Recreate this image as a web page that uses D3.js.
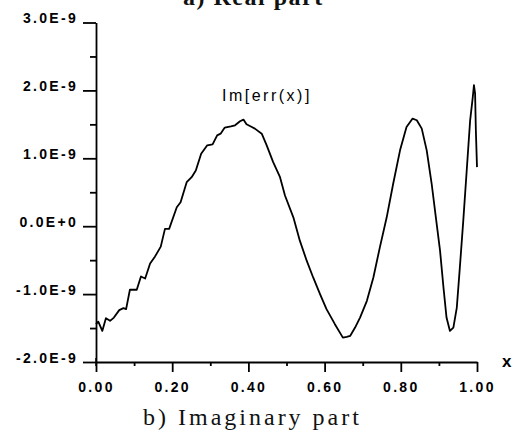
<!DOCTYPE html>
<html>
<head>
<meta charset="utf-8">
<script src="https://cdn.jsdelivr.net/npm/d3@7"></script>
<style>
  body { margin: 0; background: #fff; }
  svg { display: block; }
  .tick-label { font-family: "Liberation Sans", Arial, sans-serif; font-weight: bold; font-size: 14px; letter-spacing: 2.3px; fill: #000; }
  .caption { font-family: "Liberation Serif", "DejaVu Serif", serif; font-size: 24px; letter-spacing: 3px; fill: #111; }
</style>
</head>
<body>
<svg id="chart"></svg>
<script>
// x positions along the domain (0..1)
const xValues = [0, 0.006, 0.0165, 0.026, 0.037, 0.047, 0.061, 0.072, 0.079, 0.089,
  0.107, 0.118, 0.129, 0.142, 0.155, 0.170, 0.181, 0.192, 0.212, 0.222,
  0.238, 0.251, 0.262, 0.276, 0.292, 0.306, 0.318, 0.327, 0.338, 0.354,
  0.365, 0.378, 0.387, 0.395, 0.409, 0.417, 0.435, 0.448, 0.465, 0.483,
  0.496, 0.518, 0.535, 0.553, 0.570, 0.588, 0.605, 0.627, 0.648, 0.658,
  0.667, 0.680, 0.693, 0.711, 0.728, 0.745, 0.763, 0.780, 0.798, 0.815,
  0.831, 0.842, 0.855, 0.868, 0.881, 0.892, 0.903, 0.912, 0.920, 0.929,
  0.938, 0.947, 0.955, 0.964, 0.973, 0.982, 0.989, 0.992, 0.995, 0.997, 1.0];

// Im[err(x)] in units of 1E-9
const imErr = [-1.443, -1.405, -1.542, -1.354, -1.394, -1.346, -1.236, -1.207, -1.222, -0.936,
  -0.936, -0.740, -0.770, -0.548, -0.445, -0.301, -0.040, -0.040, 0.279, 0.353,
  0.648, 0.722, 0.821, 1.068, 1.191, 1.205, 1.338, 1.363, 1.452, 1.471,
  1.486, 1.545, 1.570, 1.501, 1.461, 1.437, 1.363, 1.191, 0.944, 0.722,
  0.452, 0.131, -0.213, -0.508, -0.755, -1.000, -1.222, -1.443, -1.641, -1.631,
  -1.616, -1.493, -1.346, -1.099, -0.755, -0.312, 0.131, 0.625, 1.117, 1.461,
  1.585, 1.560, 1.437, 1.117, 0.625, 0.131, -0.360, -0.903, -1.346, -1.542,
  -1.493, -1.198, -0.607, 0.083, 0.821, 1.560, 1.904, 2.077, 1.954, 1.412, 0.870];

const yMajorTicks = [-2, -1, 0, 1, 2, 3];
const yMinorTicks = [-1.5, -0.5, 0.5, 1.5, 2.5];
const yTickLabels = ["-2.0E-9", "-1.0E-9", "0.0E+0", "1.0E-9", "2.0E-9", "3.0E-9"];
const xMajorTicks = [0, 0.2, 0.4, 0.6, 0.8, 1.0];
const xMinorTicks = [0.1, 0.3, 0.5, 0.7, 0.9];
const xTickLabels = ["0.00", "0.20", "0.40", "0.60", "0.80", "1.00"];

const seriesLabel = "Im[err(x)]";
const topCaption = "a) Real part";
const bottomCaption = "b) Imaginary part";
const xAxisTitle = "x";

const width = 525, height = 438;
const margin = { left: 96, right: 48, top: 22.5, bottom: 76 };

const svg = d3.select('#chart')
    .attr('width', width)
    .attr('height', height);

const x = d3.scaleLinear().domain([0, 1]).range([margin.left, width - margin.right]);
const y = d3.scaleLinear().domain([-2, 3]).range([height - margin.bottom, margin.top]);

// y axis: major + minor ticks
const yAxis = svg.append('g')
    .attr('transform', `translate(${margin.left},0)`)
    .call(d3.axisLeft(y).tickValues(yMajorTicks).tickSize(13).tickSizeOuter(0).tickPadding(5)
        .tickFormat((d, i) => yTickLabels[i]));
yAxis.selectAll('text').attr('class', 'tick-label').attr('dy', 0);
svg.append('g')
    .attr('transform', `translate(${margin.left},0)`)
    .call(d3.axisLeft(y).tickValues(yMinorTicks).tickSize(6).tickFormat(''))
    .call(g => g.select('.domain').remove());

// x axis: major + minor ticks
const xAxis = svg.append('g')
    .attr('transform', `translate(0,${y(-2)})`)
    .call(d3.axisBottom(x).tickValues(xMajorTicks).tickSize(10).tickSizeOuter(0).tickPadding(10)
        .tickFormat((d, i) => xTickLabels[i]));
xAxis.selectAll('text').attr('class', 'tick-label').attr('dx', '0');
svg.append('g')
    .attr('transform', `translate(0,${y(-2)})`)
    .call(d3.axisBottom(x).tickValues(xMinorTicks).tickSize(4).tickFormat(''))
    .call(g => g.select('.domain').remove());

// little overshoot of the y axis below the x axis
svg.append('line')
    .attr('x1', x(0)).attr('x2', x(0))
    .attr('y1', y(-2) - 4).attr('y2', y(-2) + 4)
    .attr('stroke', '#000').attr('stroke-width', 1.5);

svg.selectAll('.domain, .tick line').attr('stroke', '#000').attr('stroke-width', 1.8);

// curve
const line = d3.line()
    .x((d, i) => x(xValues[i]))
    .y(d => y(d));

svg.append('path')
    .datum(imErr)
    .attr('d', line)
    .attr('fill', 'none')
    .attr('stroke', '#000')
    .attr('stroke-width', 1.8)
    .attr('stroke-linejoin', 'round');

// labels
svg.append('text')
    .attr('x', 222).attr('y', 101)
    .style('font-family', '"Liberation Sans", Arial, sans-serif')
    .style('font-size', '16px')
    .style('letter-spacing', '2.5px')
    .text(seriesLabel);

svg.append('text')
    .attr('x', 502).attr('y', 367)
    .style('font-family', '"Liberation Sans", Arial, sans-serif')
    .style('font-weight', 'bold')
    .style('font-size', '17px')
    .text(xAxisTitle);

svg.append('text')
    .attr('class', 'caption')
    .attr('x', 183).attr('y', 5)
    .style('font-weight', 'bold')
    .style('letter-spacing', '1.5px')
    .text(topCaption);

svg.append('text')
    .attr('class', 'caption')
    .attr('x', 143).attr('y', 425)
    .text(bottomCaption);
</script>
</body>
</html>
